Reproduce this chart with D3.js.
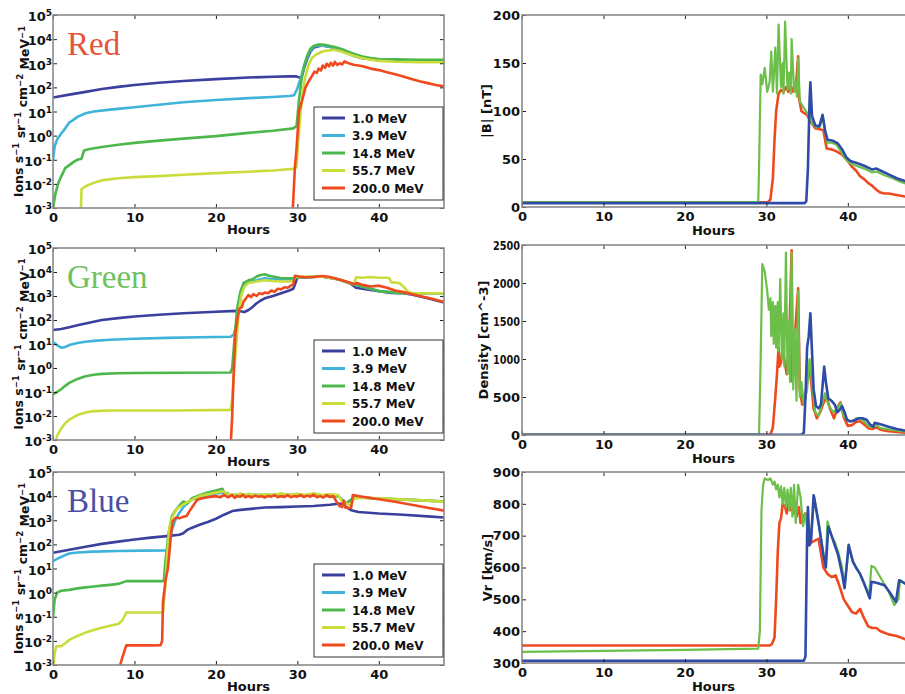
<!DOCTYPE html>
<html><head><meta charset="utf-8">
<script src="https://cdn.jsdelivr.net/npm/d3@7"></script>
<style>body{margin:0;background:#fff}svg{display:block}</style>
</head><body>
<script>
// ---------- DATA ----------
const energyLabels = ["1.0 MeV","3.9 MeV","14.8 MeV","55.7 MeV","200.0 MeV"];
const logTicks = [1e-3,1e-2,1e-1,1e0,1e1,1e2,1e3,1e4,1e5];
const hourTicks = [0,10,20,30,40];
const bTicks = [0,50,100,150,200];
const densTicks = [0,500,1000,1500,2000,2500];
const vrTicks = [300,400,500,600,700,800,900];
const panelNames = ["Red","Green","Blue"];

// Red event: fluxes [hour, value]
const red_e1 = [[0,38],[2,50],[4,65],[6,85],[8,105],[10,125],[13,155],[16,185],[20,220],[24,255],[27,275],[29,285],[29.8,290],[30.2,260],[30.5,250],[30.8,600],[31.2,1500],[31.6,3000],[32,4500],[33,5500],[34,4800],[35,3800],[36,2800],[37,2000],[38,1600],[40,1400],[44,1300],[48,1250]];
const red_e2 = [[0,0.1],[0.2,0.35],[0.5,0.7],[1,1.2],[1.5,2],[2,3.5],[2.5,4.5],[3,6],[4,8.5],[5,10],[7,12],[10,15],[13,19],[16,24],[20,30],[24,36],[27,40],[29,44],[29.6,47],[30,90],[30.5,300],[31,1200],[31.5,3000],[32,5000],[33,5500],[34,4800],[35,3800],[36,2800],[37,2000],[38,1600],[40,1400],[44,1300],[48,1250]];
const red_e3 = [[0,0.001],[0.3,0.004],[0.7,0.012],[1,0.02],[1.5,0.045],[2,0.06],[2.5,0.08],[3,0.1],[3.5,0.11],[3.8,0.24],[4.5,0.28],[6,0.34],[8,0.42],[10,0.5],[13,0.62],[16,0.75],[20,0.95],[24,1.3],[27,1.6],[29.5,2.0],[29.9,2.5],[30.2,30],[30.5,200],[30.8,700],[31.2,2000],[31.6,4000],[32,5200],[32.5,5900],[33,6000],[33.5,5700],[34,5200],[34.5,4800],[35,4300],[35.5,3800],[36,3200],[37,2400],[38,1900],[39,1650],[40,1500],[42,1450],[45,1400],[48,1400]];
const red_e4 = [[3.4,0.0005],[3.5,0.006],[4,0.008],[5,0.011],[6,0.014],[8,0.017],[10,0.019],[13,0.021],[16,0.024],[20,0.028],[24,0.032],[27,0.036],[29.5,0.042],[29.9,0.05],[30.1,0.5],[30.4,10],[30.7,80],[31,300],[31.4,900],[31.8,1700],[32.3,2300],[33,3000],[33.5,3300],[34,3500],[34.5,3600],[35,3300],[35.5,3000],[36,2600],[37,2000],[38,1600],[39,1400],[40,1250],[42,1150],[45,1100],[48,1100]];
const red_e5 = [[29.4,0.0005],[29.7,0.05],[29.9,0.3],[30.2,10],[30.6,30],[31,100],[31.4,180],[31.8,300],[32.1,450],[32.4,400],[32.6,600],[32.9,500],[33.1,800],[33.4,650],[33.6,950],[33.9,750],[34.1,1050],[34.4,800],[34.6,1150],[34.9,850],[35.2,1000],[35.5,900],[35.8,1200],[36.1,1050],[36.5,950],[37,850],[37.5,800],[38,750],[39,600],[40,520],[41,420],[42,350],[43,280],[44,220],[45,180],[46,150],[47,125],[48,110]];

// Green event
const green_e1 = [[0,38],[1,42],[2,50],[3,60],[4,72],[5,85],[6,100],[8,120],[10,140],[13,165],[16,190],[20,220],[22.5,240],[23,230],[23.5,215],[24,260],[24.5,350],[25,500],[25.5,650],[26,800],[27,1000],[28,1300],[29,1700],[29.5,2000],[29.7,3000],[30,6000],[31,6000],[33,6500],[35,5000],[36.5,3300],[37.2,2200],[38,2000],[40,1600],[41.5,1350],[43,1300],[44,1150],[46,800],[48,540]];
const green_e2 = [[0,12],[0.5,9],[1,7],[1.5,7.5],[2,9],[3,11],[4,12.5],[5,13.5],[7,15],[10,16.5],[14,18],[18,19],[21.8,20],[22.2,25],[22.5,60],[22.8,300],[23.1,1200],[23.5,2800],[24,3800],[25,4500],[26,5500],[27,5000],[28,5000],[29,5000],[29.5,5000],[30,6000],[31,6000],[33,6500],[35,5000],[37,3000],[40,1600],[43,1300],[48,1300]];
const green_e3 = [[0,0.08],[0.5,0.1],[1,0.13],[1.5,0.18],[2,0.24],[3,0.35],[4,0.45],[5,0.52],[6,0.57],[8,0.6],[10,0.62],[15,0.63],[21.8,0.65],[22,1],[22.3,20],[22.6,300],[23,1500],[23.4,3500],[24,4500],[24.5,5000],[25,6500],[25.5,7500],[26,8000],[26.5,7000],[27,6500],[27.5,6000],[28,5500],[29,5500],[29.5,5500],[30,6000],[31,6000],[33,6500],[35,5000],[37,3000],[40,1600],[43,1300],[48,1300]];
const green_e4 = [[0.2,0.0005],[0.5,0.0015],[1,0.003],[1.5,0.005],[2,0.007],[3,0.011],[4,0.014],[5,0.016],[7,0.017],[10,0.017],[15,0.017],[21.8,0.018],[22,0.05],[22.2,0.5],[22.5,10],[22.8,200],[23.1,1000],[23.5,2500],[24,3500],[25,4000],[26,4500],[27,4200],[28,4000],[29,4000],[29.5,4200],[29.8,6500],[30.5,6300],[33,6500],[35,5000],[37,3100],[37.2,6000],[38,5800],[39,6200],[40,5800],[41,5800],[41.3,5500],[41.5,3800],[42.5,3500],[43,2500],[43.5,1600],[44,1300],[48,1300]];
const green_e5 = [[21.8,0.0005],[22,0.01],[22.2,1],[22.4,30],[22.7,150],[22.9,300],[23.2,350],[23.4,600],[23.7,800],[24,1100],[24.3,900],[24.6,1200],[25,1000],[25.3,1300],[25.7,1200],[26,1400],[26.4,1300],[26.8,1700],[27.2,1500],[27.6,2000],[28,1900],[28.4,2300],[28.8,2200],[29.2,2700],[29.5,3000],[29.7,7000],[30.2,6500],[31,6000],[32,6200],[33,6800],[34,6200],[35,5000],[36,4000],[37,3100],[37.3,3500],[38,2900],[39,2500],[40,2700],[41,2200],[42,1700],[43,1450],[44,1200],[45,1000],[46,850],[47,700],[48,560]];

// Blue event
const blue_e1 = [[0,45],[2,60],[4,80],[6,105],[8,130],[10,160],[12,190],[14,220],[15.5,250],[16,290],[16.5,400],[17,480],[18,650],[19,850],[20,1150],[21,1700],[22,2400],[23,2700],[24,2900],[26,3400],[28,3500],[30,3700],[32,3900],[34,4400],[35,4800],[35.6,4800],[36,3500],[36.6,2600],[37.5,2200],[40,1900],[43,1700],[46,1450],[48,1300]];
const blue_e2 = [[0,20],[0.5,25],[1,30],[1.5,36],[2,42],[3,46],[5,50],[8,53],[11,55],[14.1,56],[14.3,120],[14.6,400],[15,1000],[15.5,2000],[16,3500],[16.5,5000],[17,7000],[18,9000],[19,11000],[20,13000],[21,14000],[22,11000],[30,11000],[35,10000],[36,5000],[37,9000],[40,8000],[44,7000],[48,6000]];
const blue_e3 = [[0,0.1],[0.2,0.5],[0.5,1.0],[1,1.2],[2,1.3],[3,1.5],[4,1.65],[5,1.8],[6,1.95],[7,2.1],[8,2.3],[8.5,2.6],[9,3.0],[10,3.0],[12,3.0],[13.6,3.0],[13.8,20],[14.2,300],[14.6,1500],[15,2500],[15.5,4000],[16,6000],[16.5,5000],[17,8000],[18,11000],[19,14000],[20,17000],[20.8,20000],[21,14000],[22,11000],[30,11000],[35,10000],[36,5000],[37,9000],[40,8000],[44,7000],[48,6000]];
const blue_e4 = [[0,0.0005],[0.2,0.003],[0.4,0.006],[1,0.006],[1.5,0.008],[2,0.011],[3,0.016],[4,0.022],[5,0.028],[6,0.035],[7,0.042],[8,0.05],[8.5,0.07],[9,0.15],[10,0.15],[12,0.15],[13.5,0.15],[13.8,2],[14,30],[14.3,500],[14.7,1500],[15.2,3000],[16,4500],[17,7000],[18,10000],[19,12000],[20,14000],[21,16000],[21.3,12000],[22,12000],[22.5,10000],[23,13000],[23.5,11000],[24,12500],[25,10500],[26,12000],[27,11000],[28,13000],[29,11000],[30,12500],[31,11000],[32,13000],[33,11000],[34,12000],[35,11000],[35.5,6000],[36,5000],[36.5,4000],[37,8000],[38,8500],[40,8200],[42,7500],[44,7000],[46,6500],[48,5800]];
const blue_e5 = [[8,0.0005],[8.5,0.002],[9,0.0065],[10,0.0065],[12,0.0065],[13.2,0.0066],[13.4,0.01],[13.5,0.4],[13.8,3],[14.1,10],[14.3,50],[14.5,300],[14.7,900],[15.1,1300],[15.5,1200],[16,1400],[16.4,1500],[16.8,2500],[17.3,4500],[17.7,7000],[18.2,8000],[19,9000],[19.5,9500],[20,10000],[20.5,9000],[21,11000],[21.5,9000],[22,11000],[22.3,8500],[22.6,10000],[23,9500],[23.3,11500],[23.6,9000],[24,10000],[24.4,8800],[24.8,10500],[25.2,9500],[25.6,10000],[26,8800],[26.4,10200],[26.8,9500],[27.2,11000],[27.6,9000],[28,10000],[28.4,9200],[28.8,11000],[29.2,9000],[29.6,10000],[30,9500],[30.4,11000],[30.8,9200],[31.2,10500],[31.6,9500],[32,11500],[32.4,9000],[32.8,10000],[33.2,8800],[33.6,11000],[34,9200],[34.4,10000],[34.8,6000],[35.2,3800],[35.5,3500],[35.7,6500],[35.9,3300],[36.6,3200],[36.8,11000],[38,9500],[40,7400],[42,5800],[44,4400],[46,3300],[48,2500]];

// Right column: [hour, value] for the three events
const bMag_red = [[0,5],[30.2,5],[30.5,8],[30.8,30],[31,70],[31.2,100],[31.5,118],[31.8,122],[32.1,120],[32.4,125],[32.7,120],[33,126],[33.3,120],[33.6,122],[33.9,157],[34,114],[34.3,100],[34.6,98],[35,96],[35.5,88],[36,82],[36.5,81],[37,80],[37.4,61],[38,60],[38.6,58],[39.2,55],[39.9,49],[40.5,42],[41,38],[41.5,32],[42,29],[42.5,25],[43,22],[43.5,18],[44,15],[44.5,14],[45,14],[46,12.5],[47,11],[48,10.5]];
const bMag_green = [[0,5],[29,5],[29.1,40],[29.3,138],[29.5,128],[29.8,145],[30.1,120],[30.4,130],[30.6,162],[30.8,120],[31.1,166],[31.3,118],[31.5,190],[31.8,125],[32.0,150],[32.1,118],[32.3,193],[32.6,122],[32.8,140],[33.0,118],[33.1,175],[33.4,120],[33.6,130],[33.75,115],[33.9,155],[34.1,110],[34.4,106],[34.7,102],[35,98],[35.3,94],[35.7,86],[36.2,83],[36.6,84],[36.9,95],[37.2,80],[37.5,67],[38,67],[38.6,65],[39.2,57],[39.7,50],[40.2,46],[41,43],[42,40],[43,36],[43.5,37],[44.5,33],[45.5,30],[46.5,26],[48,22]];
const bMag_blue = [[0,4],[34.7,4],[34.9,6],[35.1,40],[35.3,110],[35.4,130],[35.6,95],[36,85],[36.5,84],[36.9,96],[37.2,80],[37.5,70],[38.2,69],[38.8,66],[39.3,60],[39.8,52],[40.3,48],[41,46],[42,43],[43,39],[43.5,40],[44,38],[45,34],[46,30],[47,27],[48,24]];

const dens_red = [[0,3],[30.5,3],[30.8,100],[31.1,500],[31.3,800],[31.5,1150],[31.6,900],[31.8,950],[32,1150],[32.2,1000],[32.5,800],[32.8,1200],[33.1,2430],[33.2,700],[33.5,1300],[33.9,1930],[34.1,600],[34.4,400],[34.8,500],[35.2,900],[35.5,700],[35.8,350],[36.2,220],[36.6,300],[37,420],[37.4,500],[37.8,350],[38.3,220],[38.8,380],[39.1,430],[39.5,230],[40,120],[40.5,130],[41,170],[41.5,180],[42,140],[42.5,90],[43,80],[43.5,100],[44,70],[45,50],[46,40],[47,30],[48,25]];
const dens_green = [[0,5],[29.1,5],[29.3,1000],[29.5,2250],[29.8,2150],[30.1,1900],[30.3,1650],[30.5,1800],[30.6,1300],[30.8,1750],[30.9,1200],[31.1,1700],[31.2,1150],[31.4,1750],[31.5,1100],[31.7,2050],[31.9,1000],[32.1,1600],[32.2,900],[32.4,2400],[32.6,800],[32.8,1500],[32.9,700],[33.1,2400],[33.3,600],[33.5,1400],[33.7,450],[33.9,1900],[34.1,500],[34.3,700],[34.6,400],[35,600],[35.3,1000],[35.6,700],[36,300],[36.4,250],[36.8,400],[37.2,550],[37.6,400],[38.2,300],[38.8,350],[39.1,420],[39.5,250],[40,180],[40.5,180],[41,220],[41.5,220],[42,180],[42.5,120],[43,100],[43.5,130],[44,90],[45,75],[46,60],[47,45],[48,40]];
const dens_blue = [[0,2],[34.3,2],[34.6,30],[34.8,500],[35,1150],[35.2,1300],[35.4,1600],[35.6,1100],[35.8,600],[36.1,380],[36.4,350],[36.7,400],[36.9,650],[37.1,900],[37.3,700],[37.6,480],[38,450],[38.4,400],[38.7,300],[39,330],[39.3,380],[39.6,300],[39.9,200],[40.3,180],[40.8,190],[41.3,220],[41.8,220],[42.3,200],[42.7,140],[43.1,110],[43.3,160],[44,140],[45,110],[46,80],[47,60],[48,45]];

const vr_red = [[0,355],[30.4,355],[30.7,360],[31,380],[31.2,500],[31.4,650],[31.6,740],[31.8,755],[32,800],[32.3,790],[32.5,770],[32.7,800],[32.9,780],[33.1,790],[33.3,770],[33.5,790],[33.7,760],[34,790],[34.2,740],[34.5,760],[34.8,770],[35,760],[35.2,670],[35.6,680],[36,685],[36.4,690],[36.6,660],[37,600],[37.5,580],[38,570],[38.5,575],[39,540],[39.5,500],[40,480],[40.5,460],[41,455],[41.5,470],[42,440],[42.5,415],[43,410],[43.5,410],[44,400],[44.5,395],[45,390],[46,385],[47,375],[48,370]];
const vr_green = [[0,335],[10,338],[20,341],[29,345],[29.2,400],[29.4,780],[29.6,860],[29.8,880],[30.2,875],[30.5,880],[30.8,860],[31,870],[31.2,845],[31.4,860],[31.6,820],[31.8,855],[32,800],[32.2,850],[32.4,790],[32.6,845],[32.8,780],[33,850],[33.2,760],[33.4,860],[33.6,740],[33.9,860],[34.2,820],[34.5,730],[34.8,770],[35.1,700],[35.4,680],[35.9,820],[36.4,745],[37,640],[37.3,610],[37.5,745],[38,700],[38.4,680],[38.8,650],[39.3,600],[39.6,540],[40.1,665],[40.6,620],[41,600],[41.5,580],[42,550],[42.6,510],[42.9,605],[43.3,600],[44.2,560],[45,525],[45.7,482],[46.2,500],[46.4,560],[47,550],[48,540]];
const vr_blue = [[0,307],[34.6,307],[34.8,320],[35,700],[35.1,790],[35.3,670],[35.5,690],[35.8,827],[36.4,740],[37,640],[37.3,600],[37.6,728],[38,700],[38.4,670],[38.8,640],[39.3,580],[39.6,535],[40.1,671],[40.6,620],[41,600],[41.5,580],[42,550],[42.7,503],[42.9,555],[43.5,552],[44.5,544],[45.2,520],[45.9,492],[46.3,560],[47,550],[48,540]];

// ---------- STYLE ----------
const energyColors = ["#3b3f9e","#3fb3da","#4cb84c","#c9dc3c","#ef4a1f"];
const titleColors = ["#e4553a","#6fc160","#4a50a2"];
const rightColors = {red:"#ef4a1f", green:"#6cc04a", blue:"#2e4ba8"};
const FONT = "'DejaVu Sans', sans-serif";

const W = 905, H = 694;
const svg = d3.select("body").append("svg").attr("width", W).attr("height", H)
  .style("font-family", FONT);

const leftPanels = [
  {y0:15, y1:208, name:panelNames[0], color:titleColors[0], series:[red_e1,red_e2,red_e3,red_e4,red_e5], hoursY:234},
  {y0:248, y1:440, name:panelNames[1], color:titleColors[1], series:[green_e1,green_e2,green_e3,green_e4,green_e5], hoursY:466},
  {y0:472, y1:665, name:panelNames[2], color:titleColors[2], series:[blue_e1,blue_e2,blue_e3,blue_e4,blue_e5], hoursY:691}
];
const rightPanels = [
  {y0:15, y1:207, domain:[0,200], ticks:bTicks, label:"|B| [nT]", lx:486, series:[["red",bMag_red],["green",bMag_green],["blue",bMag_blue]], hoursY:235},
  {y0:245, y1:435, domain:[0,2500], ticks:densTicks, label:"Density [cm^-3]", lx:483, series:[["red",dens_red],["green",dens_green],["blue",dens_blue]], hoursY:463},
  {y0:472, y1:663, domain:[300,900], ticks:vrTicks, label:"Vr [km/s]", lx:487, series:[["red",vr_red],["green",vr_green],["blue",vr_blue]], hoursY:691}
];

const frameColor = "#8a8a8a";
let clipId = 0;

function drawXAxes(g, x, y0, y1) {
  const xAxis = d3.axisBottom(x).tickValues(hourTicks).tickSize(-4).tickPadding(3).tickFormat(d3.format("d"));
  const ax = g.append("g").attr("transform", `translate(0,${y1})`).call(xAxis);
  ax.select(".domain").remove();
  ax.selectAll(".tick line").attr("stroke", "#222");
  ax.selectAll(".tick text").attr("font-family", FONT).attr("font-weight", "bold")
    .attr("font-size", 13).attr("fill", "#111").attr("dy", "0.85em");
  const topAx = g.append("g").attr("transform", `translate(0,${y0})`)
    .call(d3.axisTop(x).tickValues(hourTicks).tickSize(-4).tickFormat(""));
  topAx.select(".domain").remove();
  topAx.selectAll(".tick line").attr("stroke", "#222");
}

// ---------- LEFT COLUMN ----------
leftPanels.forEach((p) => {
  const x0 = 53, x1 = 444;
  const x = d3.scaleLinear().domain([0,48]).range([x0,x1]);
  const y = d3.scaleLog().domain([1e-3,1e5]).range([p.y1,p.y0]);
  const g = svg.append("g");
  const cid = "clip" + (clipId++);
  g.append("clipPath").attr("id", cid).append("rect")
    .attr("x", x0).attr("y", p.y0).attr("width", x1-x0).attr("height", p.y1-p.y0);

  const line = d3.line().x(d => x(d[0])).y(d => y(d[1]));
  const lg = g.append("g").attr("clip-path", `url(#${cid})`);
  p.series.forEach((s, i) => {
    lg.append("path").datum(s).attr("d", line).attr("fill", "none")
      .attr("stroke", energyColors[i]).attr("stroke-width", 2.6)
      .attr("stroke-linejoin", "round");
  });

  drawXAxes(g, x, p.y0, p.y1);
  const yAx = g.append("g").attr("transform", `translate(${x0},0)`)
    .call(d3.axisLeft(y).tickValues(logTicks).tickSize(-4).tickPadding(1).tickFormat(() => ""));
  yAx.select(".domain").remove();
  yAx.selectAll(".tick line").attr("stroke", "#222");
  yAx.selectAll(".tick text").each(function(d) {
    const t = d3.select(this).attr("font-family", FONT).attr("font-weight", "bold")
      .attr("font-size", 13).attr("fill", "#111").attr("dy", "0.45em");
    t.append("tspan").text("10");
    t.append("tspan").attr("dy", "-0.55em").attr("font-size", 9).text(Math.round(Math.log10(d)));
  });
  const rAx = g.append("g").attr("transform", `translate(${x1},0)`)
    .call(d3.axisRight(y).tickValues(logTicks).tickSize(-4).tickFormat(""));
  rAx.select(".domain").remove();
  rAx.selectAll(".tick line").attr("stroke", "#222");

  g.append("rect").attr("x", x0).attr("y", p.y0).attr("width", x1-x0).attr("height", p.y1-p.y0)
    .attr("fill", "none").attr("stroke", frameColor).attr("stroke-width", 1.6);

  // title
  g.append("text").attr("x", 67).attr("y", p.y0 + 40)
    .attr("font-family", "'Liberation Serif', 'Times New Roman', serif")
    .attr("font-size", 33).attr("fill", p.color).text(p.name);

  // legend
  const lx = 314, ly = p.y0 + 92, lw = 129, lh = 93;
  const leg = g.append("g");
  leg.append("rect").attr("x", lx).attr("y", ly).attr("width", lw).attr("height", lh)
    .attr("fill", "#fff").attr("stroke", "#333").attr("stroke-width", 1);
  energyLabels.forEach((lab, i) => {
    const yy = ly + 11 + i * 17.5;
    leg.append("line").attr("x1", lx + 8).attr("x2", lx + 31).attr("y1", yy).attr("y2", yy)
      .attr("stroke", energyColors[i]).attr("stroke-width", 3);
    leg.append("text").attr("x", lx + 38).attr("y", yy + 4.5)
      .attr("font-family", FONT).attr("font-weight", "bold").attr("font-size", 12)
      .attr("fill", "#111").text(lab);
  });

  // axis titles
  g.append("text").attr("x", (x0+x1)/2).attr("y", p.hoursY).attr("text-anchor", "middle")
    .attr("font-family", FONT).attr("font-weight", "bold").attr("font-size", 13).attr("fill", "#111").text("Hours");
  const yl = g.append("text").attr("transform", `translate(23,${(p.y0+p.y1)/2}) rotate(-90)`)
    .attr("text-anchor", "middle").attr("font-family", FONT).attr("font-weight", "bold")
    .attr("font-size", 12.5).attr("fill", "#111");
  const parts = [["Ions s","-1"],[" sr","-1"],[" cm","-2"],[" MeV","-1"]];
  parts.forEach(([base, sup], k) => {
    const b = yl.append("tspan").text(base);
    if (k > 0) b.attr("dy", "0.5em");
    yl.append("tspan").attr("dy", "-0.5em").attr("font-size", 8.5).text(sup.replace("-", "\u2212"));
  });
});

// ---------- RIGHT COLUMN ----------
rightPanels.forEach((p) => {
  const x0 = 522, x1 = 913;
  const x = d3.scaleLinear().domain([0,48]).range([x0,x1]);
  const y = d3.scaleLinear().domain(p.domain).range([p.y1,p.y0]);
  const g = svg.append("g");
  const cid = "clip" + (clipId++);
  g.append("clipPath").attr("id", cid).append("rect")
    .attr("x", x0).attr("y", p.y0).attr("width", x1-x0).attr("height", p.y1-p.y0);
  const line = d3.line().x(d => x(d[0])).y(d => y(d[1]));
  const lg = g.append("g").attr("clip-path", `url(#${cid})`);
  p.series.forEach(([key, s]) => {
    lg.append("path").datum(s).attr("d", line).attr("fill", "none")
      .attr("stroke", rightColors[key]).attr("stroke-width", key === "green" ? 2.2 : 2.6)
      .attr("stroke-linejoin", "round");
  });

  drawXAxes(g, x, p.y0, p.y1);
  const yAx = g.append("g").attr("transform", `translate(${x0},0)`)
    .call(d3.axisLeft(y).tickValues(p.ticks).tickSize(-4).tickPadding(2).tickFormat(d3.format("d")));
  yAx.select(".domain").remove();
  yAx.selectAll(".tick line").attr("stroke", "#222");
  yAx.selectAll(".tick text").attr("font-family", FONT).attr("font-weight", "bold")
    .attr("font-size", 13).attr("fill", "#111")
    .each(function(d) {
      const s = String(d);
      if (s.length > 3) d3.select(this).attr("textLength", 27).attr("lengthAdjust", "spacingAndGlyphs");
    });

  g.append("rect").attr("x", x0).attr("y", p.y0).attr("width", x1-x0).attr("height", p.y1-p.y0)
    .attr("fill", "none").attr("stroke", frameColor).attr("stroke-width", 1.6);

  g.append("text").attr("x", (x0+x1)/2 - 4).attr("y", p.hoursY).attr("text-anchor", "middle")
    .attr("font-family", FONT).attr("font-weight", "bold").attr("font-size", 13).attr("fill", "#111").text("Hours");
  g.append("text").attr("transform", `translate(${p.lx},${(p.y0+p.y1)/2}) rotate(-90)`)
    .attr("text-anchor", "middle").attr("dy", "0.35em").attr("font-family", FONT).attr("font-weight", "bold")
    .attr("font-size", 13).attr("fill", "#111").text(p.label);
});
</script>
</body></html>
